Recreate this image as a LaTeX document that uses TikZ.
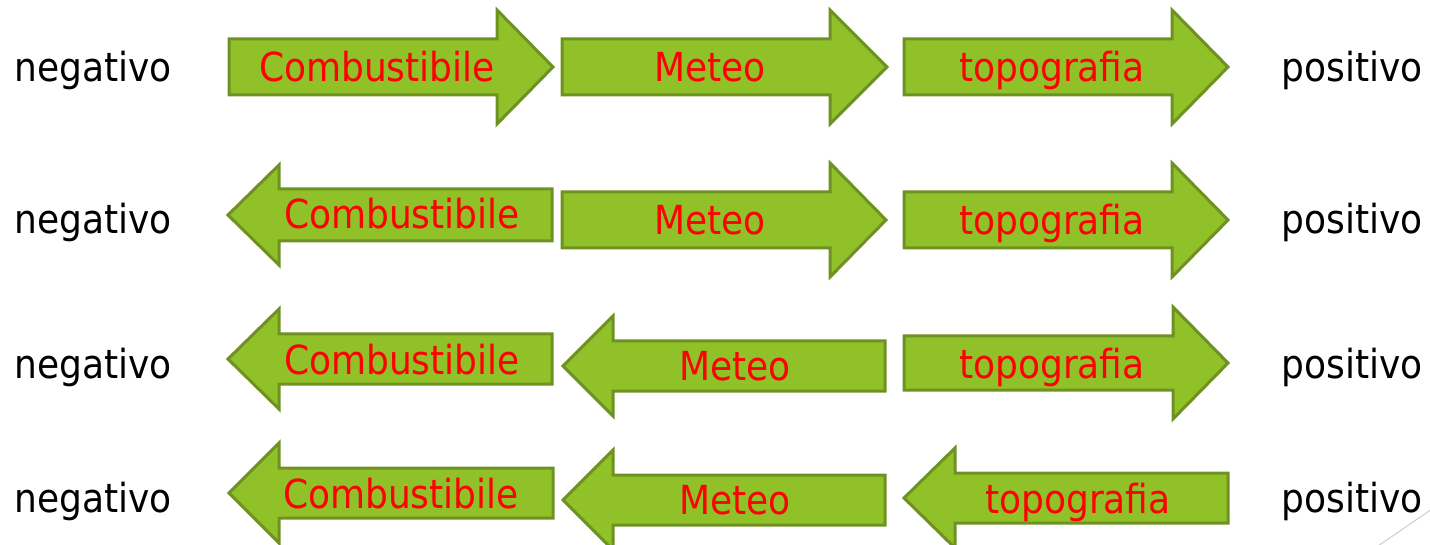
\documentclass[tikz,border=0pt]{standalone}
\usepackage{fontspec}
\setmainfont{DejaVu Sans Condensed}
\definecolor{arrfill}{RGB}{145,193,40}
\definecolor{arrline}{RGB}{110,146,33}
\definecolor{decoline}{RGB}{205,205,205}
\tikzset{
  arrbox/.style={fill=arrfill, draw=arrline, line width=3pt, line join=miter},
  redlbl/.style={anchor=base, text=red, font=\fontsize{40}{48}\selectfont, inner sep=0pt},
  blklbl/.style={anchor=base, text=black, font=\fontsize{40}{48}\selectfont, inner sep=0pt}
}
% right arrow: left x, head base x, tip x, centre y, body half, head half
\newcommand\RArrow[6]{%
  \draw[arrbox] (#1,#4-#5) -- (#2,#4-#5) -- (#2,#4-#6) -- (#3,#4) -- (#2,#4+#6) -- (#2,#4+#5) -- (#1,#4+#5) -- cycle;}
% left arrow: tip x, head base x, right x, centre y, body half, head half
\newcommand\LArrow[6]{%
  \draw[arrbox] (#3,#4-#5) -- (#2,#4-#5) -- (#2,#4-#6) -- (#1,#4) -- (#2,#4+#6) -- (#2,#4+#5) -- (#3,#4+#5) -- cycle;}
\begin{document}
\begin{tikzpicture}[x=1pt,y=-1pt]
\useasboundingbox (0,0) rectangle (1430,545);
\begin{scope}
\clip (0,0) rectangle (1430,545);
% row 1
\RArrow{229}{497}{553}{67}{28}{57}
\RArrow{562}{830}{887}{67}{28}{57}
\RArrow{904}{1172}{1228}{67}{28}{57}
% row 2
\LArrow{228}{279}{552}{215}{26}{50}
\RArrow{562}{830}{886}{220}{28}{57}
\RArrow{904}{1172}{1228}{220}{28}{57}
% row 3
\LArrow{228}{279}{552}{359}{25}{50}
\LArrow{563}{613}{885}{366}{25}{50}
\RArrow{904}{1173}{1228}{363}{27}{56}
% row 4
\LArrow{229}{279}{553}{493}{25}{50}
\LArrow{563}{613}{885}{500}{25}{50}
\LArrow{904}{955}{1228}{498}{25}{50}
\draw[decoline, line width=1pt] (1378,546) -- (1432,509);
\end{scope}
% labels row 1
\node[blklbl] (neg1) at (93,82) {negativo};
\node[redlbl] (comb1) at (377,82) {Combustibile};
\node[redlbl] (met1) at (710,82) {Meteo};
\node[redlbl] (topo1) at (1052,82) {topografia};
\node[blklbl] (pos1) at (1352,82) {positivo};
% row 2
\node[blklbl] (neg2) at (93,234) {negativo};
\node[redlbl] (comb2) at (402,229) {Combustibile};
\node[redlbl] (met2) at (710,235) {Meteo};
\node[redlbl] (topo2) at (1052,235) {topografia};
\node[blklbl] (pos2) at (1352,234) {positivo};
% row 3
\node[blklbl] (neg3) at (93,378) {negativo};
\node[redlbl] (comb3) at (402,374) {Combustibile};
\node[redlbl] (met3) at (735,380) {Meteo};
\node[redlbl] (topo3) at (1052,378) {topografia};
\node[blklbl] (pos3) at (1352,378) {positivo};
% row 4
\node[blklbl] (neg4) at (93,512) {negativo};
\node[redlbl] (comb4) at (401,508) {Combustibile};
\node[redlbl] (met4) at (735,514) {Meteo};
\node[redlbl] (topo4) at (1078,513) {topografia};
\node[blklbl] (pos4) at (1352,512) {positivo};
\end{tikzpicture}
\end{document}
